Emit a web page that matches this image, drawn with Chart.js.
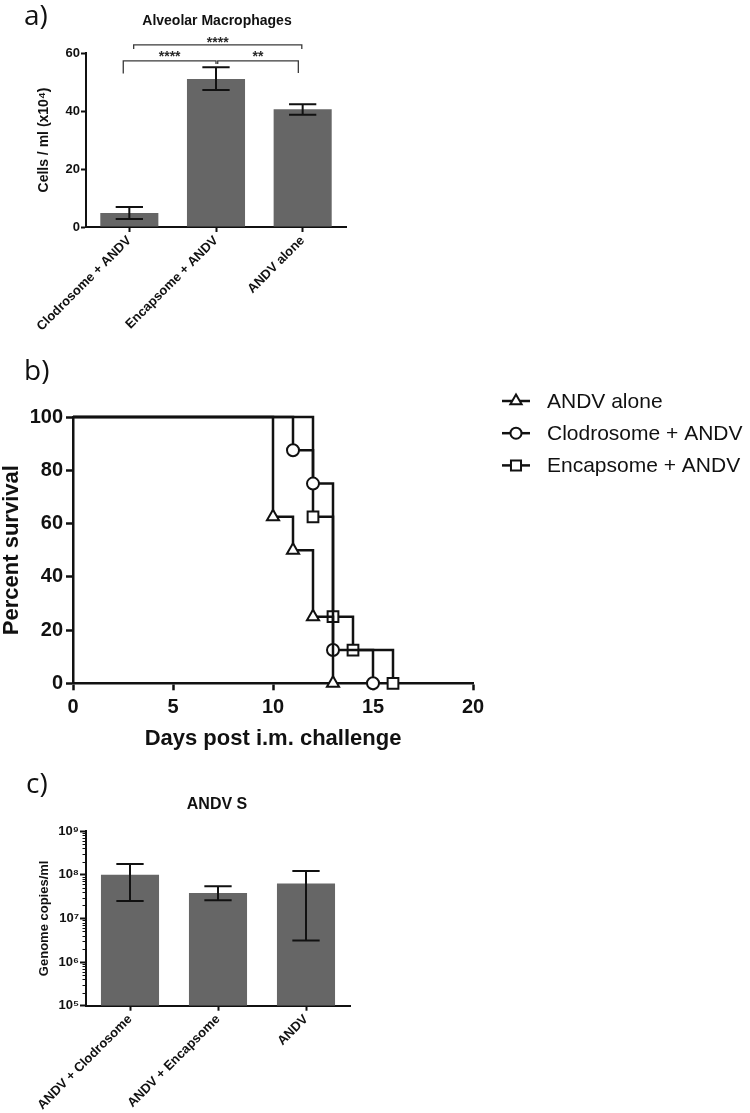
<!DOCTYPE html>
<html>
<head>
<meta charset="utf-8">
<script src="https://cdn.jsdelivr.net/npm/chart.js@4.4.1/dist/chart.umd.min.js"></script>
<style>
  body { margin:0; width:750px; height:1113px; background:#fff; position:relative; overflow:hidden; font-family:"Liberation Sans", Arial, sans-serif; }
  .box { position:absolute; }
  .panel { position:absolute; font-family:"Open Sans", sans-serif; font-size:28px; line-height:1; color:#111; }
  .ttl { position:absolute; width:200px; text-align:center; font-weight:bold; line-height:1; color:#111; }
</style>
</head>
<body>
<div class="box" style="left:0;top:0;width:360px;height:350px;"><canvas id="chartA"></canvas></div>
<div class="box" style="left:0;top:360px;width:750px;height:395px;"><canvas id="chartB"></canvas></div>
<div class="box" style="left:0;top:750px;width:360px;height:363px;"><canvas id="chartC"></canvas></div>
<div class="panel" style="left:24px;top:0px;">a)</div>
<div class="ttl" style="left:117px;top:13px;font-size:14px;">Alveolar Macrophages</div>
<div class="panel" style="left:24px;top:355px;">b)</div>
<div class="panel" style="left:26px;top:768px;">c)</div>
<div class="ttl" style="left:117px;top:796px;font-size:16px;">ANDV S</div>
<script>
// 📌 a) alveolar macrophages (mean + error range)
const macroLabels = ['Clodrosome + ANDV', 'Encapsome + ANDV', 'ANDV alone'];
const macroMean = [4.8, 51.0, 40.6];
const macroLow = [2.8, 47.2, 38.7];
const macroHigh = [6.9, 55.1, 42.3];
const macroTicks = [0, 20, 40, 60];
// significance brackets: from/to in category index, y levels in data units
const macroSig = [
    { from: 0.05, to: 1.99, y: 62.8, dropL: 61.4, dropR: 61.4, text: '****', ty: 64.4 },
    { from: -0.07, to: 1.0, y: 57.3, dropL: 52.9, dropR: 56.2, text: '****', ty: 59.6 },
    { from: 1.02, to: 1.95, y: 57.3, dropL: 56.2, dropR: 53.1, text: '**', ty: 59.6 }
];

// 📌 b) survival curves
const survDaysTicks = [0, 5, 10, 15, 20];
const andvDays = [0, 10, 11, 12, 13];
const andvSurv = [100, 62.5, 50, 25, 0];
const clodDays = [0, 11, 12, 13, 15];
const clodSurv = [100, 87.5, 75, 12.5, 0];
const encDays = [0, 12, 13, 14, 16];
const encSurv = [100, 62.5, 25, 12.5, 0];

// 📌 c) ANDV S genome copies (log scale)
const genomeLabels = ['ANDV + Clodrosome', 'ANDV + Encapsome', 'ANDV'];
const genomeMean = [9.9e7, 3.8e7, 6.3e7];
const genomeLow = [2.5e7, 2.6e7, 3.1e6];
const genomeHigh = [1.76e8, 5.4e7, 1.22e8];
const genomeTicks = [1e5, 1e6, 1e7, 1e8, 1e9];

const INK = '#111';
const BAR = '#666666';
Chart.defaults.font.family = '"Liberation Sans", Arial, sans-serif';
Chart.defaults.color = INK;
Chart.defaults.animation = false;

const errorBars = {
    id: 'errorBars',
    afterDatasetsDraw(chart, args, opts) {
        const { ctx, scales: { y } } = chart;
        const meta = chart.getDatasetMeta(0);
        ctx.save();
        ctx.strokeStyle = INK; ctx.lineWidth = 2;
        meta.data.forEach((bar, i) => {
            const top = y.getPixelForValue(opts.high[i]);
            const bot = y.getPixelForValue(opts.low[i]);
            const cap = bar.width * 0.235;
            ctx.beginPath();
            ctx.moveTo(bar.x, top); ctx.lineTo(bar.x, bot);
            ctx.moveTo(bar.x - cap, top); ctx.lineTo(bar.x + cap, top);
            ctx.moveTo(bar.x - cap, bot); ctx.lineTo(bar.x + cap, bot);
            ctx.stroke();
        });
        ctx.restore();
    }
};

const sigBrackets = {
    id: 'sigBrackets',
    afterDraw(chart, args, opts) {
        const { ctx, scales: { x, y } } = chart;
        ctx.save();
        ctx.strokeStyle = '#3a3a3a'; ctx.lineWidth = 1.3;
        ctx.fillStyle = '#2a2a2a';
        ctx.font = 'bold 14px "Liberation Sans", Arial, sans-serif';
        ctx.textAlign = 'center'; ctx.textBaseline = 'middle';
        opts.items.forEach(b => {
            const x1 = x.getPixelForValue(b.from), x2 = x.getPixelForValue(b.to);
            ctx.beginPath();
            ctx.moveTo(x1, y.getPixelForValue(b.dropL));
            ctx.lineTo(x1, y.getPixelForValue(b.y));
            ctx.lineTo(x2, y.getPixelForValue(b.y));
            ctx.lineTo(x2, y.getPixelForValue(b.dropR));
            ctx.stroke();
            ctx.fillText(b.text, (x1 + x2) / 2, y.getPixelForValue(b.ty) + 3);
        });
        ctx.restore();
    }
};

const axisGrid = (len, w) => ({ display: true, drawOnChartArea: false, drawTicks: true, tickLength: len, tickWidth: w, tickColor: INK });

// 1. Panel a
new Chart(document.getElementById('chartA'), {
    type: 'bar',
    data: { labels: macroLabels, datasets: [{ data: macroMean, backgroundColor: BAR, categoryPercentage: 1, barPercentage: 0.67 }] },
    options: {
        responsive: true, maintainAspectRatio: false,
        layout: { padding: { top: 53, right: 14, left: 0, bottom: 0 } },
        plugins: { legend: { display: false }, tooltip: { enabled: false },
            errorBars: { low: macroLow, high: macroHigh }, sigBrackets: { items: macroSig } },
        scales: {
            x: {
                offset: true,
                grid: { ...axisGrid(5, 2), offset: false },
                border: { color: INK, width: 2 },
                ticks: { autoSkip: false, minRotation: 45, maxRotation: 45, padding: 1, font: { size: 13, weight: 'bold' } },
                afterFit(s) { s.height = 123; }
            },
            y: {
                min: 0, max: 60,
                afterBuildTicks(s) { s.ticks = macroTicks.map(v => ({ value: v })); },
                grid: axisGrid(5, 2),
                border: { color: INK, width: 2 },
                ticks: { padding: 1, font: { size: 13, weight: 'bold' } },
                title: { display: true, text: 'Cells / ml (x10⁴)', font: { size: 14, weight: 'bold' }, padding: { top: 36, bottom: 0 } },
                afterFit(s) { s.width = 86; }
            }
        }
    },
    plugins: [errorBars, sigBrackets]
});

// 2. Panel b legend (line + marker like the original)
const survLegend = {
    id: 'survLegend',
    afterDraw(chart) {
        const ctx = chart.ctx;
        ctx.save();
        ctx.font = '21px "Liberation Sans", Arial, sans-serif';
        ctx.textBaseline = 'middle'; ctx.textAlign = 'left';
        chart.data.datasets.forEach((ds, i) => {
            const cy = 41 + i * 32.2;
            ctx.strokeStyle = INK; ctx.lineWidth = 2.5;
            ctx.beginPath(); ctx.moveTo(502, cy); ctx.lineTo(530, cy); ctx.stroke();
            ctx.fillStyle = '#fff'; ctx.lineWidth = 2;
            Chart.helpers.drawPoint(ctx, { pointStyle: ds.pointStyle, radius: ds.legendRadius, borderWidth: 2, rotation: 0 }, 516, cy);
            ctx.fillStyle = INK;
            ctx.fillText(ds.label, 547, cy + 1);
        });
        ctx.restore();
    }
};

const survSet = (label, days, surv, style, r) => ({
    label, pointStyle: style, legendRadius: r - 0.5,
    data: days.map((d, i) => ({ x: d, y: surv[i] })),
    stepped: true, borderColor: INK, borderWidth: 2.5, fill: false, clip: false,
    pointRadius: days.map((d, i) => i === 0 ? 0 : r),
    pointBackgroundColor: '#fff', pointBorderColor: INK, pointBorderWidth: 2
});

new Chart(document.getElementById('chartB'), {
    type: 'line',
    data: { datasets: [
        survSet('ANDV alone', andvDays, andvSurv, 'triangle', 7),
        survSet('Clodrosome + ANDV', clodDays, clodSurv, 'circle', 6),
        survSet('Encapsome + ANDV', encDays, encSurv, 'rect', 7.6)
    ] },
    options: {
        responsive: true, maintainAspectRatio: false,
        layout: { padding: { top: 57, right: 277, left: 0, bottom: 0 } },
        plugins: { legend: { display: false }, tooltip: { enabled: false } },
        scales: {
            x: {
                type: 'linear', min: 0, max: 20,
                afterBuildTicks(s) { s.ticks = survDaysTicks.map(v => ({ value: v })); },
                grid: axisGrid(7, 2.5),
                border: { color: INK, width: 2.5 },
                ticks: { padding: 5, font: { size: 20, weight: 'bold' } },
                title: { display: true, text: 'Days post i.m. challenge', font: { size: 22, weight: 'bold' }, padding: { top: 0, bottom: 3 } },
                afterFit(s) { s.height = 71.7; }
            },
            y: {
                min: 0, max: 100, ticks: { stepSize: 20, padding: 3, font: { size: 20, weight: 'bold' } },
                grid: axisGrid(7, 2.5),
                border: { color: INK, width: 2.5 },
                title: { display: true, text: 'Percent survival', font: { size: 22, weight: 'bold' }, padding: { top: -1, bottom: 0 } },
                afterFit(s) { s.width = 73; }
            }
        }
    },
    plugins: [survLegend]
});

// 3. Panel c (log axis with minor ticks)
const supDigits = { '5': '⁵', '6': '⁶', '7': '⁷', '8': '⁸', '9': '⁹' };
const minorLogTicks = {
    id: 'minorLogTicks',
    afterDraw(chart) {
        const { ctx, scales: { y }, chartArea } = chart;
        ctx.save();
        ctx.strokeStyle = INK; ctx.lineWidth = 1;
        ctx.beginPath();
        for (let d = 0; d < genomeTicks.length - 1; d++) {
            for (let k = 2; k <= 9; k++) {
                const py = Math.round(y.getPixelForValue(genomeTicks[d] * k)) + 0.5;
                ctx.moveTo(chartArea.left - 3.5, py); ctx.lineTo(chartArea.left, py);
            }
        }
        ctx.stroke();
        ctx.restore();
    }
};

new Chart(document.getElementById('chartC'), {
    type: 'bar',
    data: { labels: genomeLabels, datasets: [{ data: genomeMean, backgroundColor: BAR, categoryPercentage: 1, barPercentage: 0.66 }] },
    options: {
        responsive: true, maintainAspectRatio: false,
        layout: { padding: { top: 81, right: 10, left: 0, bottom: 0 } },
        plugins: { legend: { display: false }, tooltip: { enabled: false },
            errorBars: { low: genomeLow, high: genomeHigh } },
        scales: {
            x: {
                offset: true,
                grid: { ...axisGrid(5, 2), offset: false },
                border: { color: INK, width: 2 },
                ticks: { autoSkip: false, minRotation: 45, maxRotation: 45, padding: 1, font: { size: 13, weight: 'bold' } },
                afterFit(s) { s.height = 107.3; }
            },
            y: {
                type: 'logarithmic', min: 1e5, max: 1e9,
                afterBuildTicks(s) { s.ticks = genomeTicks.map(v => ({ value: v })); },
                grid: axisGrid(6, 2),
                border: { color: INK, width: 2 },
                ticks: { padding: 1, font: { size: 13, weight: 'bold' },
                    callback: v => '10' + supDigits[String(Math.round(Math.log10(v)))] },
                title: { display: true, text: 'Genome copies/ml', font: { size: 13, weight: 'bold' }, padding: { top: 37, bottom: 0 } },
                afterFit(s) { s.width = 86; }
            }
        }
    },
    plugins: [errorBars, minorLogTicks]
});
</script>
</body>
</html>
